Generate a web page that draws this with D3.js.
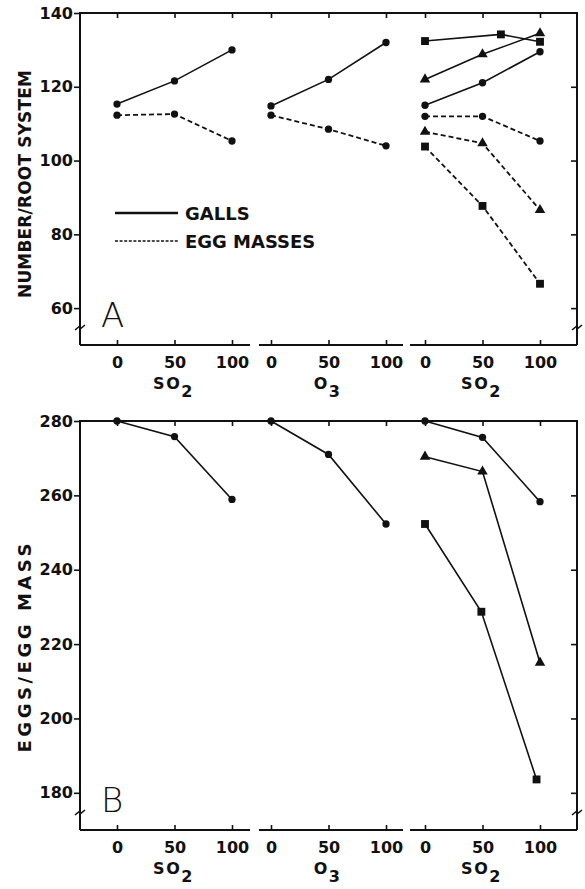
<!DOCTYPE html>
<html>
<head>
<meta charset="utf-8">
<script src="https://cdn.jsdelivr.net/npm/d3@7"></script>
<style>
  html, body { margin: 0; padding: 0; background: #fff; }
  svg { display: block; }
</style>
</head>
<body>
<svg id="chart" width="585" height="889"></svg>
<script>
// doses per pollutant group and the group names (subscript kept apart)
const DOSES = [0, 50, 100];
const GROUP_LABELS = [["SO", "2"], ["O", "3"], ["SO", "2"]];
const TOP_TICKS = [60, 80, 100, 120, 140];
const BOTTOM_TICKS = [180, 200, 220, 240, 260, 280];

// panel A: number per root system
const gallsSO2 = [115.3, 121.6, 130];
const eggMassesSO2 = [112.3, 112.6, 105.3];
const gallsO3 = [114.8, 122, 132];
const eggMassesO3 = [112.3, 108.5, 104];
const gallsCircle = [115, 121.1, 129.5];
const eggMassesCircle = [112, 112, 105.3];
const gallsTriangle = [122, 128.8, 134.5];
const eggMassesTriangle = [107.8, 104.7, 86.6];
const gallsSquare = [132.4, 134.2, 132.2];
const gallsSquareDoses = [0, 66, 100];
const eggMassesSquare = [103.8, 87.7, 66.6];

// panel B: eggs per egg mass
const eggsSO2 = [280, 275.8, 258.9];
const eggsO3 = [280, 271, 252.3];
const eggsCircle = [280, 275.6, 258.3];
const eggsTriangle = [270.4, 266.4, 215];
const eggsSquare = [252.3, 228.7, 183.6];
const eggsSquareDoses = [0, 49, 97];

const INK = "#111";
const FONT = "DejaVu Sans, Verdana, sans-serif";

const svg = d3.select("#chart");

const left = 80, right = 577;
const groupStart = d3.scaleLinear().domain([0, 2]).range([117, 425]);
const xDose = d3.scaleLinear().domain([0, 100]).range([0, 115]);
const xPos = (g, d) => groupStart(g) + xDose(d);

const shapes = {
  circle: d3.symbol().type(d3.symbolCircle).size(42),
  triangle: d3.symbol().type(d3.symbolTriangle).size(48),
  square: d3.symbol().type(d3.symbolSquare).size(62),
};

function drawPanel(p) {
  const y = d3.scaleLinear().domain(p.domain).range([p.bottom, p.top]);
  const g = svg.append("g");

  // frame: left axis, top border, right axis
  g.append("path")
    .attr("d", `M${left},${p.bottom} V${p.top} H${right} V${p.bottom}`)
    .attr("fill", "none").attr("stroke", INK).attr("stroke-width", 2);

  // broken bottom axis, one piece per group
  const gaps = [[left, 250], [259, 403], [410, right]];
  gaps.forEach(([a, b]) => {
    g.append("line")
      .attr("x1", a).attr("x2", b)
      .attr("y1", p.bottom).attr("y2", p.bottom)
      .attr("stroke", INK).attr("stroke-width", 2);
  });

  // left axis ticks + labels
  const yAxis = g.append("g")
    .attr("transform", `translate(${left},0)`)
    .call(d3.axisLeft(y).tickValues(p.ticks).tickSizeInner(6).tickSizeOuter(0).tickPadding(1));
  yAxis.select(".domain").remove();
  yAxis.selectAll("line").attr("stroke", INK).attr("stroke-width", 1.6);
  yAxis.selectAll("text")
    .attr("font-family", FONT).attr("font-weight", "bold")
    .attr("font-size", 16).attr("fill", INK);

  // right axis, ticks only (inward)
  const yRight = g.append("g")
    .attr("transform", `translate(${right},0)`)
    .call(d3.axisRight(y).tickValues(p.ticks.slice(0, -1)).tickSizeInner(-6).tickSizeOuter(0).tickFormat(""));
  yRight.select(".domain").remove();
  yRight.selectAll("line").attr("stroke", INK).attr("stroke-width", 1.6);

  // x ticks for each group, top and bottom
  GROUP_LABELS.forEach((lab, gi) => {
    const xs = d3.scaleLinear().domain([0, 100]).range([xPos(gi, 0), xPos(gi, 100)]);

    const bAxis = g.append("g")
      .attr("transform", `translate(0,${p.bottom})`)
      .call(d3.axisBottom(xs).tickValues(DOSES).tickSizeInner(-5).tickSizeOuter(0).tickPadding(12));
    bAxis.select(".domain").remove();
    bAxis.selectAll("line").attr("stroke", INK).attr("stroke-width", 1.6);
    bAxis.selectAll("text")
      .attr("font-family", FONT).attr("font-weight", "bold")
      .attr("font-size", 16).attr("fill", INK);

    const tAxis = g.append("g")
      .attr("transform", `translate(0,${p.top})`)
      .call(d3.axisTop(xs).tickValues(DOSES).tickSizeInner(-5).tickSizeOuter(0).tickFormat(""));
    tAxis.select(".domain").remove();
    tAxis.selectAll("line").attr("stroke", INK).attr("stroke-width", 1.6);

    const t = g.append("text")
      .attr("x", xs(50) - 1)
      .attr("y", p.bottom + 44)
      .attr("text-anchor", "middle")
      .attr("font-family", FONT).attr("font-weight", "bold")
      .attr("font-size", 16).attr("letter-spacing", 1.5).attr("fill", INK);
    t.append("tspan").text(lab[0]);
    t.append("tspan").attr("dy", 8).text(lab[1]);
  });

  // axis breaks near the bottom of both side axes
  [left, right].forEach(ax => {
    const by = p.bottom - 18;
    g.append("path")
      .attr("d", `M${ax - 5},${by + 3} L${ax},${by - 1} L${ax},${by + 2} L${ax + 5},${by - 2}`)
      .attr("fill", "none").attr("stroke", INK).attr("stroke-width", 1.6);
  });

  // series lines and markers
  const line = d3.line()
    .x(d => xPos(d.group, d.dose))
    .y(d => y(d.value));

  p.series.forEach(s => {
    const pts = s.values.map((v, i) => ({ group: s.group, dose: s.doses[i], value: v }));
    g.append("path")
      .datum(pts)
      .attr("d", line)
      .attr("fill", "none")
      .attr("stroke", INK)
      .attr("stroke-width", s.dashed ? 1.8 : 1.6)
      .attr("stroke-dasharray", s.dashed ? "5 3" : null);
    g.selectAll(null)
      .data(pts)
      .join("path")
      .attr("transform", d => `translate(${xPos(d.group, d.dose)},${y(d.value)})`)
      .attr("d", shapes[s.shape])
      .attr("fill", INK);
  });

  // y title
  g.append("text")
    .attr("transform", `translate(31,${p.titleY}) rotate(-90)`)
    .attr("text-anchor", "middle")
    .attr("font-family", FONT).attr("font-weight", "bold")
    .attr("font-size", p.titleSize).attr("fill", INK)
    .attr("textLength", p.titleLen).attr("lengthAdjust", "spacing")
    .text(p.title);

  // panel letter
  g.append("text")
    .attr("x", 101)
    .attr("y", p.bottom - 18)
    .attr("font-family", FONT).attr("font-weight", 200)
    .attr("font-size", 34).attr("fill", INK)
    .text(p.letter);

  return { g, y };
}

const topPanel = drawPanel({
  top: 13, bottom: 345, domain: [50, 140], ticks: TOP_TICKS,
  title: "NUMBER/ROOT SYSTEM", titleY: 184, titleLen: 228, titleSize: 17, letter: "A",
  series: [
    { group: 0, doses: DOSES, values: gallsSO2, dashed: false, shape: "circle" },
    { group: 0, doses: DOSES, values: eggMassesSO2, dashed: true, shape: "circle" },
    { group: 1, doses: DOSES, values: gallsO3, dashed: false, shape: "circle" },
    { group: 1, doses: DOSES, values: eggMassesO3, dashed: true, shape: "circle" },
    { group: 2, doses: DOSES, values: gallsCircle, dashed: false, shape: "circle" },
    { group: 2, doses: DOSES, values: eggMassesCircle, dashed: true, shape: "circle" },
    { group: 2, doses: DOSES, values: gallsTriangle, dashed: false, shape: "triangle" },
    { group: 2, doses: DOSES, values: eggMassesTriangle, dashed: true, shape: "triangle" },
    { group: 2, doses: gallsSquareDoses, values: gallsSquare, dashed: false, shape: "square" },
    { group: 2, doses: DOSES, values: eggMassesSquare, dashed: true, shape: "square" },
  ],
});

// legend (panel A only)
const legend = topPanel.g.append("g");
[["GALLS", false, 213], ["EGG MASSES", true, 241]].forEach(([label, dashed, ly]) => {
  legend.append("line")
    .attr("x1", 115).attr("x2", 178).attr("y1", ly).attr("y2", ly)
    .attr("stroke", INK).attr("stroke-width", dashed ? 1.6 : 2.4)
    .attr("stroke-dasharray", dashed ? "3 1.6" : null);
  legend.append("text")
    .attr("x", 185).attr("y", ly + 7)
    .attr("font-family", FONT).attr("font-weight", "bold")
    .attr("font-size", 18).attr("fill", INK)
    .text(label);
});

drawPanel({
  top: 421, bottom: 830, domain: [170, 280], ticks: BOTTOM_TICKS,
  title: "EGGS/EGG MASS", titleY: 648, titleLen: 209, titleSize: 18, letter: "B",
  series: [
    { group: 0, doses: DOSES, values: eggsSO2, dashed: false, shape: "circle" },
    { group: 1, doses: DOSES, values: eggsO3, dashed: false, shape: "circle" },
    { group: 2, doses: DOSES, values: eggsCircle, dashed: false, shape: "circle" },
    { group: 2, doses: DOSES, values: eggsTriangle, dashed: false, shape: "triangle" },
    { group: 2, doses: eggsSquareDoses, values: eggsSquare, dashed: false, shape: "square" },
  ],
});
</script>
</body>
</html>
